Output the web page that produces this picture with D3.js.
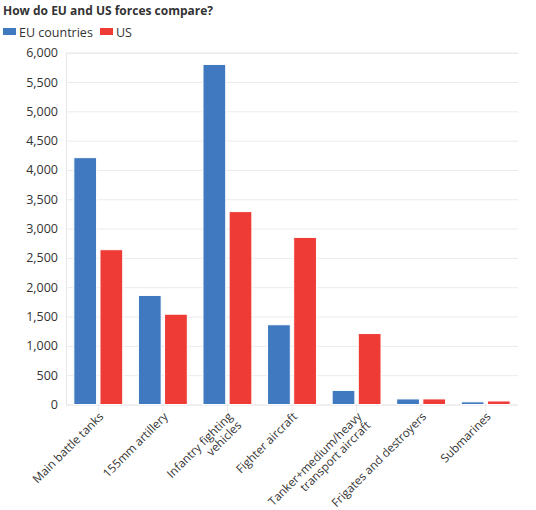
<!DOCTYPE html>
<html><head><meta charset="utf-8">
<script src="https://cdn.jsdelivr.net/npm/d3@7"></script>
<style>
body{margin:0;background:#fff;font-family:"Open Sans",sans-serif;}
svg text{font-family:"Open Sans",sans-serif;}
</style></head>
<body><div id="chart"></div>
<script>
const categories = [["Main battle tanks"],["155mm artillery"],["Infantry fighting","vehicles"],["Fighter aircraft"],["Tanker+medium/heavy","transport aircraft"],["Frigates and destroyers"],["Submarines"]];
const seriesNames = ["EU countries","US"];
const euValues = [4210, 1860, 5800, 1360, 240, 95, 45];
const usValues = [2640, 1540, 3290, 2850, 1210, 95, 60];
const yTicks = [0,500,1000,1500,2000,2500,3000,3500,4000,4500,5000,5500,6000];
const colors = ["#4079c0","#ee3b35"];

const W=536,H=510;
const svg=d3.select("#chart").append("svg").attr("width",W).attr("height",H);
const m={left:66,right:518,top:52.7,bottom:404.5};
const catKeys=categories.map(c=>c.join(" "));
const x=d3.scaleBand().domain(catKeys).range([m.left,m.right]).paddingInner(0).paddingOuter(0);
const xs=d3.scaleBand().domain(seriesNames).range([0,x.bandwidth()]).paddingInner(0.13).paddingOuter(0.3);
const y=d3.scaleLinear().domain([0,6000]).range([m.bottom,m.top]);

// title
svg.append("text").attr("x",3).attr("y",15).attr("font-size",12).attr("font-weight","bold").attr("fill","#333").text("How do EU and US forces compare?");
// legend
let lx=3;
seriesNames.forEach((s,i)=>{
  svg.append("rect").attr("x",lx).attr("y",28).attr("width",13).attr("height",7).attr("fill",colors[i]);
  svg.append("text").attr("x",lx+16).attr("y",36.5).attr("font-size",12.5).attr("fill","#333").text(s);
  lx+= (i===0?97:0);
});

// grid
const yAxis=d3.axisLeft(y).tickValues(yTicks).tickFormat(d3.format(",")).tickSize(-(m.right-m.left)).tickPadding(8);
const ga=svg.append("g").attr("transform",`translate(${m.left},0)`).call(yAxis);
ga.select(".domain").attr("stroke","#e6e6e6");
ga.selectAll(".tick line").attr("stroke","#ebebeb");
ga.selectAll(".tick text").attr("font-size",12.5).attr("fill","#333").attr("font-family","Open Sans, sans-serif");

// x ticks
const xAxis=d3.axisBottom(x).tickSize(8).tickFormat("");
const gx=svg.append("g").attr("transform",`translate(0,${m.bottom})`).call(xAxis);
gx.select(".domain").remove();
gx.selectAll(".tick line").attr("stroke","#ebebeb");

// bars
const data=categories.map((c,i)=>({key:catKeys[i],vals:[euValues[i],usValues[i]]}));
const g=svg.append("g");
data.forEach(d=>{
  d.vals.forEach((v,j)=>{
    g.append("rect").attr("x",x(d.key)+xs(seriesNames[j])).attr("width",xs.bandwidth())
     .attr("y",y(v)).attr("height",y(0)-y(v)).attr("fill",colors[j]).attr("stroke","#fff").attr("stroke-width",1);
  });
});

// x labels
categories.forEach((c,i)=>{
  const cx=x(catKeys[i])+x.bandwidth()/2+3;
  const cy=m.bottom+10;
  const t=svg.append("text").attr("transform",`translate(${cx},${cy}) rotate(-45)`).attr("text-anchor","end").attr("font-size",11.7).attr("fill","#333");
  c.forEach((line,k)=>{
    t.append("tspan").attr("x",0).attr("dy",k===0?"4px":"12.5px").text(line);
  });
});
</script></body></html>
